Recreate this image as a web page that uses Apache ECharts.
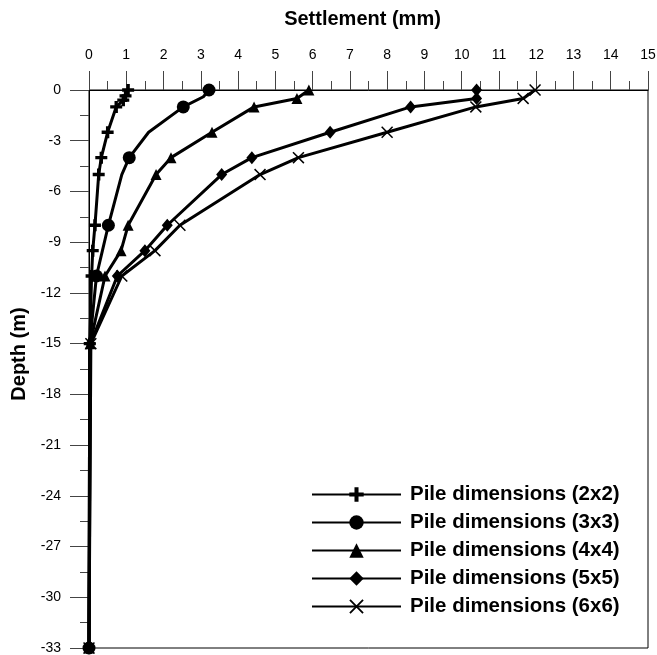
<!DOCTYPE html>
<html>
<head>
<meta charset="utf-8">
<script src="https://cdn.jsdelivr.net/npm/echarts@6/dist/echarts.min.js"></script>
<style>html,body{margin:0;padding:0;background:#fff}#c{width:657px;height:655px}</style>
</head>
<body>
<div id="c"></div>
<script>
// ---- data ----
const seriesNames = ['Pile dimensions (2x2)', 'Pile dimensions (3x3)', 'Pile dimensions (4x4)', 'Pile dimensions (5x5)', 'Pile dimensions (6x6)'];

const depth2x2  = [0, -0.35, -0.6, -1, -2.5, -4, -5, -8, -9.5, -11, -15, -33];
const settle2x2 = [1.05, 0.98, 0.92, 0.73, 0.5, 0.33, 0.26, 0.16, 0.1, 0.07, 0.02, 0];

const depth3x3  = [0, -0.4, -1, -2.5, -4, -5, -8, -9.5, -11, -15, -33];
const settle3x3 = [3.22, 3.07, 2.53, 1.6, 1.08, 0.88, 0.52, 0.36, 0.2, 0.02, 0];
const marker3x3 = [1, 0, 1, 0, 1, 0, 1, 0, 1, 0, 1];

const depth4x4  = [0, -0.5, -1, -2.5, -4, -5, -8, -9.5, -11, -15, -33];
const settle4x4 = [5.9, 5.58, 4.43, 3.3, 2.2, 1.8, 1.05, 0.86, 0.43, 0.03, 0];

const depth5x5  = [0, -0.5, -1, -2.5, -4, -5, -8, -9.5, -11, -15, -33];
const settle5x5 = [10.4, 10.4, 8.63, 6.47, 4.37, 3.56, 2.1, 1.5, 0.76, 0.04, 0];

const depth6x6  = [0, -0.5, -1, -2.5, -4, -5, -8, -9.5, -11, -15, -33];
const settle6x6 = [11.97, 11.65, 10.38, 8.0, 5.62, 4.59, 2.44, 1.77, 0.88, 0.05, 0];

const xTickLabels = ['0','1','2','3','4','5','6','7','8','9','10','11','12','13','14','15'];
const yTickLabels = ['-33','-30','-27','-24','-21','-18','-15','-12','-9','-6','-3','0'];

// ---- symbols ----
const plusPath = 'path://M36,0 L64,0 L64,36 L100,36 L100,64 L64,64 L64,100 L36,100 L36,64 L0,64 L0,36 L36,36 Z';
const crossPath = 'path://M0,9 L9,0 L50,41 L91,0 L100,9 L59,50 L100,91 L91,100 L50,59 L9,100 L0,91 L41,50 Z';

function pts(xs, ys, marks) {
  return xs.map((x, i) => {
    const item = { value: [x, ys[i]] };
    if (marks && !marks[i]) item.symbol = 'none';
    return item;
  });
}

const FONT = '"Liberation Sans", Arial, sans-serif';
const baseSeries = {
  type: 'line',
  lineStyle: { color: '#000', width: 3 },
  itemStyle: { color: '#000' },
  showAllSymbol: true,
  animation: false,
  emphasis: { disabled: true }
};

const chart = echarts.init(document.getElementById('c'), null, { renderer: 'canvas' });
chart.setOption({
  backgroundColor: '#fff',
  animation: false,
  grid: {
    left: 89, right: 9, top: 90, bottom: 7,
    show: true, borderColor: '#000', borderWidth: 1,
    containLabel: false, outerBoundsMode: 'none'
  },
  legend: {
    orient: 'vertical',
    left: 311, top: 484,
    padding: 0,
    itemWidth: 89, itemHeight: 18, itemGap: 7,
    selectedMode: false,
    textStyle: { fontFamily: FONT, fontSize: 20.5, fontWeight: 'bold', color: '#000', lineHeight: 18, padding: [0,0,0,4] },
    data: seriesNames
  },
  xAxis: {
    type: 'value', position: 'top',
    min: 0, max: 15, interval: 1,
    name: 'Settlement (mm)', nameLocation: 'middle', nameGap: 61,
    nameTextStyle: { fontFamily: FONT, fontSize: 20, fontWeight: 'bold', color: '#000', padding: [0, 12, 0, 0] },
    axisLine: { show: true, onZero: false, lineStyle: { color: '#000', width: 1 } },
    axisTick: { show: true, length: 19, lineStyle: { color: '#444' } },
    minorTick: { show: true, splitNumber: 2, length: 9, lineStyle: { color: '#444' } },
    splitLine: { show: false },
    axisLabel: { margin: 28, fontFamily: FONT, fontSize: 14, color: '#000',
      formatter: v => xTickLabels[Math.round(v)] }
  },
  yAxis: {
    type: 'value', position: 'left',
    min: -33, max: 0, interval: 3,
    name: 'Depth (m)', nameLocation: 'middle', nameGap: 58, nameRotate: 90,
    nameTextStyle: { fontFamily: FONT, fontSize: 20, fontWeight: 'bold', color: '#000', padding: [0, 0, 0, 30] },
    axisLine: { show: true, onZero: false, lineStyle: { color: '#000', width: 1 } },
    axisTick: { show: true, length: 19, lineStyle: { color: '#444' } },
    minorTick: { show: true, splitNumber: 2, length: 9, lineStyle: { color: '#444' } },
    splitLine: { show: false },
    axisLabel: { margin: 28, fontFamily: FONT, fontSize: 14, color: '#000',
      formatter: v => yTickLabels[Math.round((v + 33) / 3)] }
  },
  series: [
    Object.assign({}, baseSeries, { name: seriesNames[0], symbol: plusPath, symbolSize: 12, data: pts(settle2x2, depth2x2) }),
    Object.assign({}, baseSeries, { name: seriesNames[1], symbol: 'circle', symbolSize: 13, data: pts(settle3x3, depth3x3, marker3x3) }),
    Object.assign({}, baseSeries, { name: seriesNames[2], symbol: 'triangle', symbolSize: 11, data: pts(settle4x4, depth4x4) }),
    Object.assign({}, baseSeries, { name: seriesNames[3], symbol: 'diamond', symbolSize: [11, 13], data: pts(settle5x5, depth5x5) }),
    Object.assign({}, baseSeries, { name: seriesNames[4], symbol: crossPath, symbolSize: 12, data: pts(settle6x6, depth6x6) })
  ]
});
</script>
</body>
</html>
